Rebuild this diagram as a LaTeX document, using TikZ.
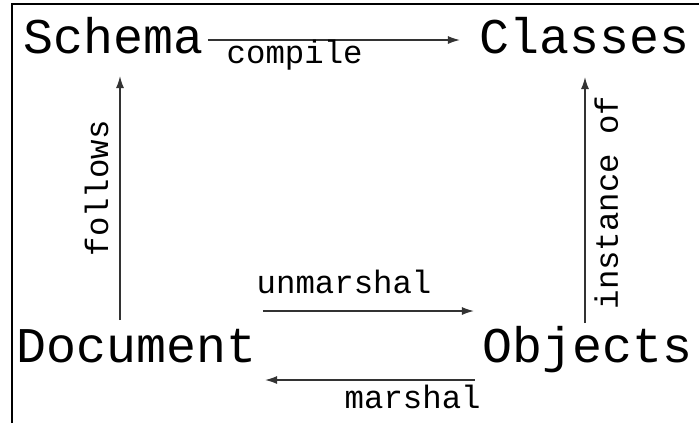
\documentclass[tikz,border=0pt]{standalone}
\usepackage{fontspec}
\setmonofont{Liberation Mono}
\usetikzlibrary{arrows.meta}
\tikzset{
  big/.style={inner sep=0mm,anchor=base west,font=\ttfamily\fontsize{14.2}{16}\selectfont},
  small/.style={inner sep=0mm,anchor=base west,font=\ttfamily\fontsize{9.2}{11}\selectfont},
  link/.style={-{Latex[length=1.2mm,width=0.8mm]},line width=0.4pt,black!80}
}

\begin{document}
\begin{tikzpicture}[x=0.01cm,y=-0.01cm]
\useasboundingbox (0,0) rectangle (699,423);
%\draw[help lines,step=50] (0,0) grid (699,423);
\draw[line width=0.6pt] (12,423) -- (12,4) -- (699,4);
\foreach \x/\y/\n/\t in {23/53/schema/Schema, 479/53/classes/Classes, 16/362/document/Document, 482/362/objects/Objects}
  \node[big] (\n) at (\x,\y) {\t};
\foreach \x/\y/\n in {208/40/cs, 460/40/cc, 120/320/fd, 120/76/fs, 585/323/io, 585/77/ic, 263/311/ud, 474/311/uo, 475/380/mo, 265/380/md}
  \coordinate (\n) at (\x,\y);
\foreach \s/\t in {cs/cc, fd/fs, io/ic, ud/uo, mo/md}
  \draw[link] (\s) -- (\t);
\foreach \x/\y/\n/\r/\t in {226/63/compile/0/compile, 256/293/unmarshal/0/unmarshal, 344/408/marshal/0/marshal, 108/257/follows/90/follows, 618/310/instance/90/instance of}
  \node[small,rotate=\r] (\n) at (\x,\y) {\t};
\end{tikzpicture}
\end{document}
